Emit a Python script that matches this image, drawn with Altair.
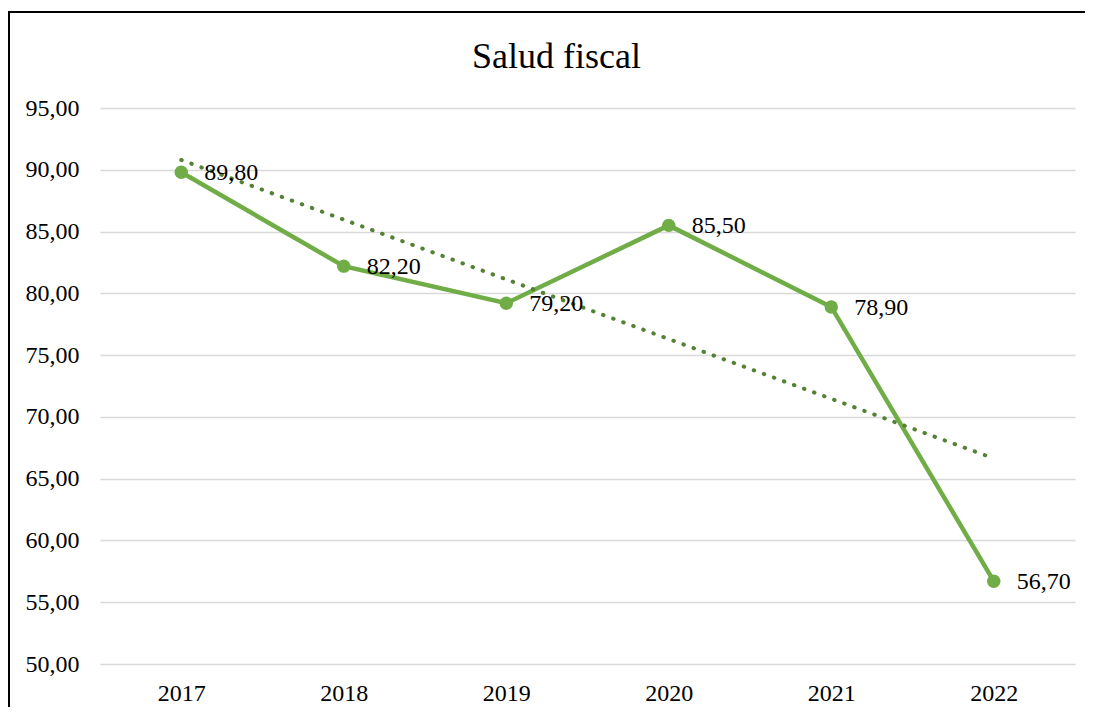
import altair as alt
import pandas as pd

years = [2017, 2018, 2019, 2020, 2021, 2022]
values = [89.8, 82.2, 79.2, 85.5, 78.9, 56.7]
y_ticks = [50, 55, 60, 65, 70, 75, 80, 85, 90, 95]

df = pd.DataFrame({"year": years, "value": values})

FONT = "Liberation Serif"
GREEN = "#70AD47"
DARK = "#548235"

x = alt.X("year:Q", scale=alt.Scale(domain=[2016.5, 2022.5], nice=False, zero=False),
          axis=alt.Axis(values=years, format="d", grid=False, ticks=False, domain=False,
                        labelFlush=False, labelPadding=17, labelFontSize=24,
                        labelFont=FONT, labelColor="#000000", title=None))
y = alt.Y("value:Q", scale=alt.Scale(domain=[50, 95], nice=False, zero=False),
          axis=alt.Axis(values=y_ticks, grid=True, gridColor="#d9d9d9", gridWidth=1.5,
                        ticks=False, domain=False, labelPadding=21, labelFontSize=24,
                        labelFont=FONT, labelColor="#000000", title=None,
                        labelExpr="replace(format(datum.value, '.2f'), '.', ',')"))

base = alt.Chart(df)

line = base.mark_line(color=GREEN, strokeWidth=4.5).encode(x=x, y=y)
pts = base.mark_point(filled=True, color=GREEN, size=180, opacity=1).encode(x=x, y=y)
trend = base.transform_regression("year", "value", extent=[2017, 2022]).mark_line(
    color=DARK, strokeWidth=4, strokeCap="round", strokeDash=[0.5, 10.2]
).encode(x=x, y=y)
labels = base.transform_calculate(
    lab="replace(format(datum.value, '.2f'), '.', ',')"
).mark_text(align="left", baseline="middle", dx=23, dy=1, fontSize=24, font=FONT,
            color="#000000").encode(x=x, y=y, text="lab:N")

frame = alt.Chart(df).mark_rect(fillOpacity=0, stroke="#000000", strokeWidth=2).encode(
    x=alt.value(-91), x2=alt.value(1100), y=alt.value(-96), y2=alt.value(800)
).transform_filter("datum.year == 2017")

chart = alt.layer(line, trend, pts, labels, frame).properties(
    width=975, height=556,
    title=alt.TitleParams("Salud fiscal", font=FONT, fontSize=36, fontWeight="normal",
                          color="#000000", anchor="middle", frame="group", dx=-31,
                          offset=-93, baseline="alphabetic"),
    autosize=alt.AutoSizeParams(type="none"),
    padding={"left": 92, "top": 100, "right": 10, "bottom": 43},
).configure_view(stroke=None)

chart.save("out.html", embed_options={"renderer": "svg", "actions": False})
